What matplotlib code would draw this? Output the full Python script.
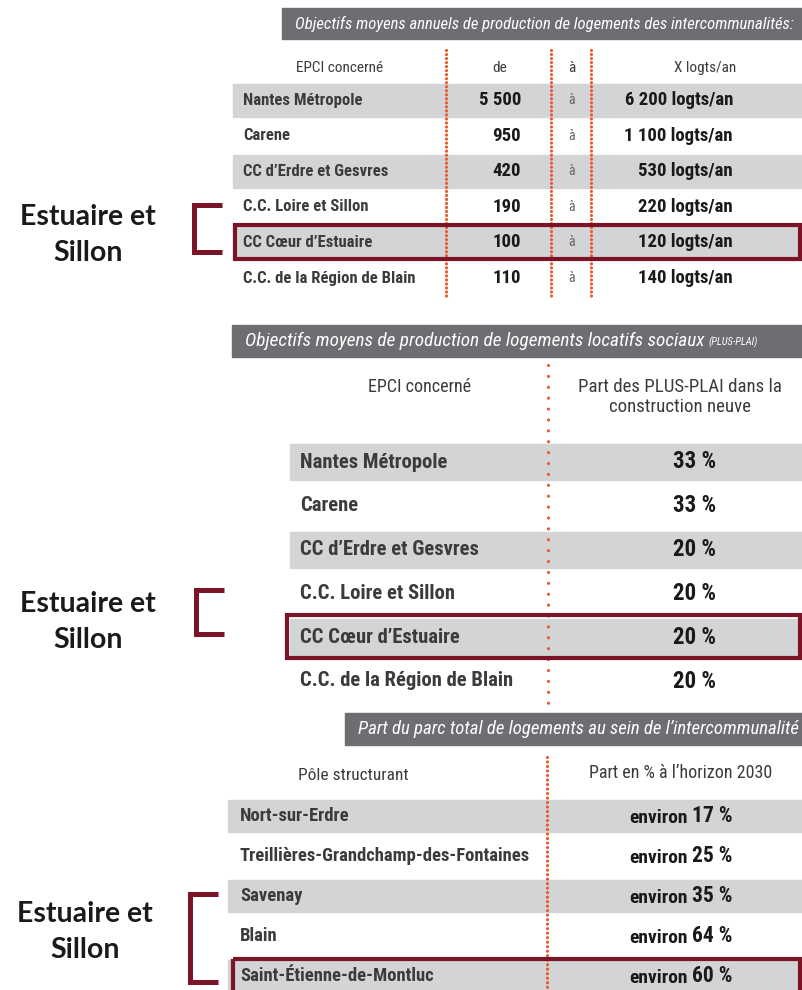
import matplotlib
matplotlib.use("Agg")
import matplotlib.pyplot as plt
from matplotlib import font_manager
from matplotlib.patches import Rectangle

# --- données ---
epci = ["Nantes Métropole", "Carene", "CC d’Erdre et Gesvres", "C.C. Loire et Sillon",
        "CC Cœur d’Estuaire", "C.C. de la Région de Blain"]
logts_de = [5500, 950, 420, 190, 100, 110]
logts_a = [6200, 1100, 530, 220, 120, 140]
part_plus_plai = [33, 33, 20, 20, 20, 20]
poles = ["Nort-sur-Erdre", "Treillières-Grandchamp-des-Fontaines", "Savenay", "Blain",
         "Saint-Étienne-de-Montluc"]
part_parc_2030 = [17, 25, 35, 64, 60]

titres = ["Objectifs moyens annuels de production de logements des intercommunalités:",
          "Objectifs moyens de production de logements locatifs sociaux",
          "Part du parc total de logements au sein de l’intercommunalité"]

# couleurs
GRIS_FONCE = "#6d6e71"
GRIS_CLAIR = "#d3d4d6"
ORANGE = "#e85a2c"
BORDEAUX = "#7b1426"
TEXTE = "#3b3b3d"

# police étroite si disponible
noms = {f.name for f in font_manager.fontManager.ttflist}
COND = "DejaVu Sans"
for n in ["Liberation Sans Narrow", "Roboto Condensed", "Open Sans Condensed", "Noto Sans"]:
    if n in noms:
        COND = n
        break
GRAS = "Lato" if "Lato" in noms else "DejaVu Sans"


def fmt(v):
    return f"{v:,}".replace(",", " ")


fig = plt.figure(figsize=(8.03, 9.9), dpi=100)
ax = fig.add_axes([0, 0, 1, 1])
ax.set_xlim(0, 803)
ax.set_ylim(990, 0)
ax.axis("off")
rend = fig.canvas.get_renderer()


def ajuster(t, largeur):
    # ramène la largeur du texte (en px) à celle
    w = t.get_window_extent(rend).width
    t.set_fontsize(t.get_fontsize() * largeur / w)
    return t


def bandeau(x0, y0, y1, titre, largeur, petit=None):
    ax.add_patch(Rectangle((x0, y0), 803 - x0, y1 - y0, color=GRIS_FONCE, zorder=1))
    t = ax.text(x0 + 13, (y0 + y1) / 2, titre, color="white", fontsize=12, style="italic",
                family=COND, va="center", ha="left", zorder=3)
    ajuster(t, largeur)
    if petit:
        bb = t.get_window_extent(rend)
        x_fin = ax.transData.inverted().transform((bb.x1, 0))[0]
        ax.text(x_fin + 4, (y0 + y1) / 2 + 1, petit, color="white", fontsize=t.get_fontsize() * 0.55,
                style="italic", family=COND, va="center", ha="left", zorder=3)


def pointilles(x, y0, y1, pas):
    ax.plot([x, x], [y0, y1], color=ORANGE, lw=2.3, linestyle=(0, (0.01, pas)),
            dash_capstyle="round", zorder=4)


def accolade(x, y0, y1, xt, yt):
    ax.plot([x + 28, x, x, x + 28], [y0, y0, y1, y1], color=BORDEAUX, lw=3.6,
            solid_joinstyle="miter", solid_capstyle="butt", zorder=5)
    ax.text(xt, yt, "Estuaire et\nSillon", fontsize=20.5, fontweight="bold", family=GRAS,
            color="#1a1a1a", ha="center", va="center", linespacing=1.45)


# ---------- tableau 1 ----------
bandeau(282, 8, 39, titres[0], 499)
y_entete = 68
ax.text(340, y_entete, "EPCI concerné", family=COND, fontsize=11, color=TEXTE, ha="center", va="center")
ax.text(500, y_entete, "de", family=COND, fontsize=11, color=TEXTE, ha="center", va="center")
ax.text(572, y_entete, "à", family=COND, fontsize=11, color=TEXTE, ha="center", va="center")
ax.text(705, y_entete, "X logts/an", family=COND, fontsize=11, color=TEXTE, ha="center", va="center")

for i, nom in enumerate(epci):
    y = 100 + i * 35.6
    if i % 2 == 0:
        ax.add_patch(Rectangle((233, y - 16.5), 570, 33, color=GRIS_CLAIR, zorder=1))
    ax.text(243, y, nom, family=COND, fontsize=12, fontweight="bold", color=TEXTE, va="center")
    ax.text(521, y, fmt(logts_de[i]), family=COND, fontsize=13.5, fontweight="bold",
            color="#1a1a1a", va="center", ha="right")
    ax.text(572, y, "à", family=COND, fontsize=10, color="#666666", va="center", ha="center")
    ax.text(733, y, fmt(logts_a[i]) + " logts/an", family=COND, fontsize=13.5, fontweight="bold",
            color="#1a1a1a", va="center", ha="right")
for x in [446, 551, 591]:
    pointilles(x, 50, 298, 1.25)
ax.add_patch(Rectangle((235, 100 + 4 * 35.6 - 17), 565, 34, fill=False, ec=BORDEAUX, lw=3, zorder=6))
accolade(194, 205, 252, 88, 235)

# ---------- tableau 2 ----------
bandeau(232, 325, 357, titres[1], 458, petit="(PLUS-PLAI)")
ax.text(420, 387, "EPCI concerné", family=COND, fontsize=13, color=TEXTE, ha="center", va="center")
ax.text(680, 397, "Part des PLUS-PLAI dans la\nconstruction neuve", family=COND, fontsize=13.6,
        color=TEXTE, ha="center", va="center", linespacing=1.15)
for i, nom in enumerate(epci):
    y = 462 + i * 43.8
    if i % 2 == 0:
        ax.add_patch(Rectangle((290, y - 18), 513, 36, color=GRIS_CLAIR, zorder=1))
    ax.text(300, y, nom, family=COND, fontsize=14.9, fontweight="bold", color=TEXTE, va="center")
    ax.text(695, y, f"{part_plus_plai[i]} %", family=COND, fontsize=16.5, fontweight="bold",
            color="#1a1a1a", va="center", ha="center")
pointilles(548, 365, 705, 3.4)
ax.add_patch(Rectangle((287, 462 + 4 * 43.8 - 22), 513, 43, fill=False, ec=BORDEAUX, lw=3, zorder=6))
accolade(196, 590, 634, 88, 622)

# ---------- tableau 3 ----------
bandeau(345, 713, 745, titres[2], 440)
ax.text(353, 776, "Pôle structurant", family=COND, fontsize=12.5, color=TEXTE, ha="center", va="center")
ax.text(681, 773, "Part en % à l’horizon 2030", family=COND, fontsize=13, color=TEXTE,
        ha="center", va="center")
for i, nom in enumerate(poles):
    y = 816 + i * 40
    if i % 2 == 0:
        ax.add_patch(Rectangle((228, y - 16), 575, 32, color=GRIS_CLAIR, zorder=1))
    ax.text(240, y, nom, family=COND, fontsize=13.4, fontweight="bold", color=TEXTE, va="center")
    ax.text(688, y + 2, "environ", family=COND, fontsize=14, fontweight="bold", color="#1a1a1a",
            va="center", ha="right")
    ax.text(692, y, f"{part_parc_2030[i]} %", family=COND, fontsize=15.5, fontweight="bold",
            color="#1a1a1a", va="center", ha="left")
pointilles(547, 757, 990, 1.4)
ax.add_patch(Rectangle((233, 816 + 4 * 40 - 17), 567, 40, fill=False, ec=BORDEAUX, lw=3, zorder=6))
accolade(190, 894, 982, 85, 932)

fig.savefig("out.png", dpi=100)
